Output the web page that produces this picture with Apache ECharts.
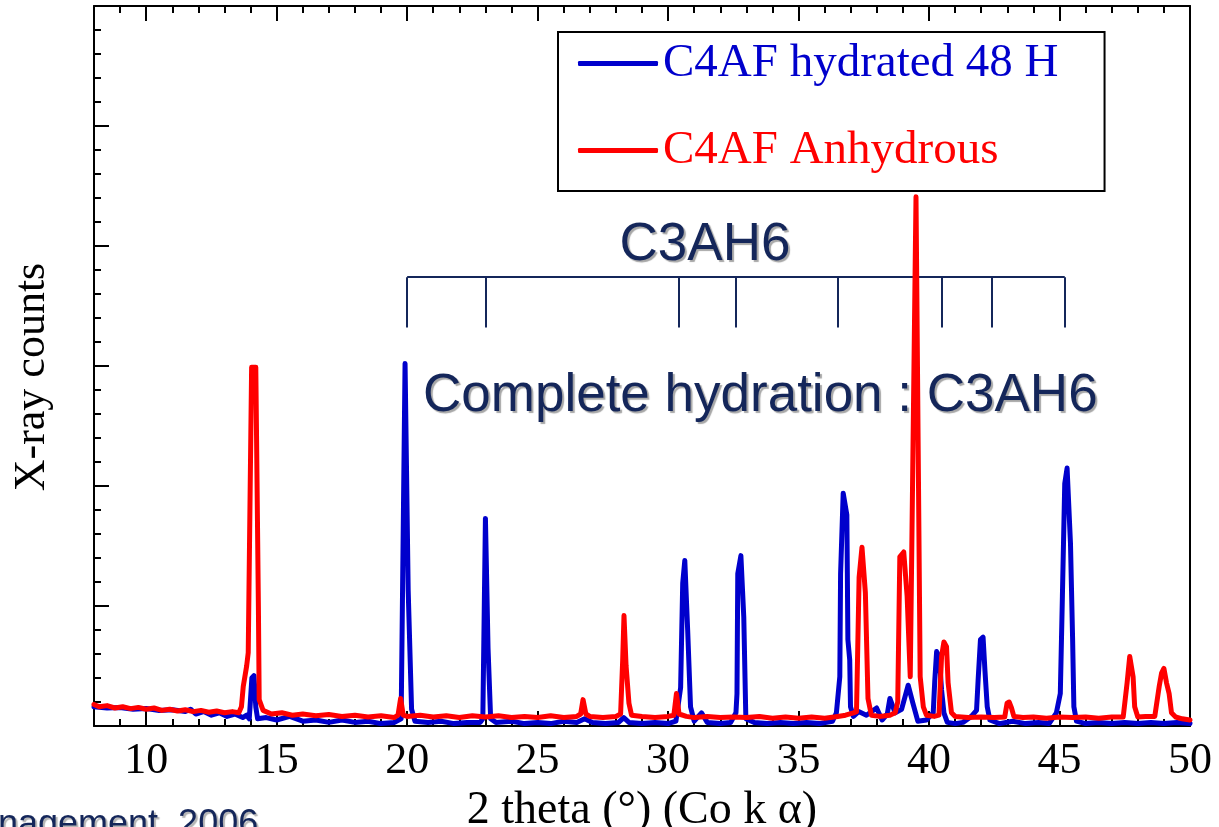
<!DOCTYPE html>
<html>
<head>
<meta charset="utf-8">
<title>C4AF XRD</title>
<script src="https://cdn.jsdelivr.net/npm/echarts@6/dist/echarts.min.js"></script>
<style>
  html, body { margin: 0; padding: 0; background: #ffffff; }
  #chart { width: 1219px; height: 827px; }
</style>
</head>
<body>
<div id="chart"></div>
<script>
// X-ray diffraction patterns of C4AF: anhydrous vs. hydrated 48 h (Co K-alpha)

// [2 theta (deg), counts] for the hydrated sample
const hydratedPoints = [
  [8.0, 16], [8.5, 15], [9.0, 15.5], [9.5, 14], [10.0, 14.5], [10.5, 13], [11.0, 13.5],
  [11.5, 12], [11.7, 14], [11.9, 10], [12.2, 12], [12.5, 9], [12.8, 11], [13.1, 8],
  [13.4, 10], [13.7, 7], [13.85, 9], [13.95, 6], [14.05, 40], [14.13, 42], [14.2, 16],
  [14.27, 6], [14.6, 7], [15.0, 5], [15.5, 8], [16.0, 4], [16.5, 5], [17.0, 3], [17.5, 5],
  [18.0, 3], [18.5, 4], [19.0, 2], [19.5, 3], [19.77, 6], [19.92, 302], [19.97, 302],
  [20.04, 113], [20.17, 14], [20.3, 4], [20.8, 3], [21.3, 4], [21.8, 2], [22.3, 3],
  [22.8, 3], [22.9, 6], [23.0, 173], [23.1, 65], [23.2, 6], [23.4, 3], [24.0, 4],
  [24.5, 2], [25.0, 3], [25.5, 2], [26.0, 4], [26.5, 3], [26.8, 6], [27.1, 3], [27.6, 2],
  [28.1, 3], [28.3, 7], [28.5, 3], [29.0, 2], [29.5, 3], [30.0, 2], [30.3, 4],
  [30.48, 32], [30.56, 119], [30.64, 138], [30.75, 80], [30.86, 16], [31.0, 4],
  [31.28, 11], [31.5, 3], [32.0, 2], [32.4, 3], [32.6, 11], [32.64, 27], [32.67, 127],
  [32.79, 142], [32.9, 91], [32.98, 6], [33.3, 3], [33.8, 2], [34.3, 3], [34.8, 2],
  [35.3, 3], [35.8, 2], [36.3, 4], [36.45, 11], [36.58, 41], [36.61, 127], [36.71, 194],
  [36.85, 176], [36.89, 72], [36.96, 55], [36.99, 16], [37.1, 8], [37.3, 12], [37.6, 9],
  [37.99, 15], [38.2, 5], [38.4, 10], [38.5, 23], [38.7, 11], [38.95, 14], [39.2, 34],
  [39.38, 19], [39.57, 4], [39.9, 5], [40.16, 11], [40.22, 38], [40.29, 62], [40.39, 58],
  [40.48, 30], [40.57, 11], [40.7, 3], [41.0, 2], [41.3, 3], [41.62, 8], [41.82, 13],
  [41.88, 38], [41.97, 72], [42.07, 74], [42.14, 47], [42.23, 16], [42.33, 5], [42.7, 2],
  [43.2, 4], [43.7, 2], [44.2, 3], [44.6, 2], [44.88, 11], [45.03, 27], [45.11, 108],
  [45.2, 202], [45.29, 215], [45.42, 152], [45.5, 74], [45.55, 16], [45.65, 4], [46.0, 2],
  [46.5, 3], [47.0, 2], [47.5, 3], [48.0, 2], [48.5, 3], [49.0, 2], [49.5, 3], [50.0, 2]
];

// [2 theta (deg), counts] for the anhydrous sample
const anhydrousPoints = [
  [8.0, 18], [8.2, 16], [8.5, 17], [8.8, 15], [9.1, 16], [9.4, 14.5], [9.7, 15.5],
  [10.0, 14], [10.3, 15], [10.6, 13], [10.9, 14], [11.2, 12.5], [11.5, 13.5], [11.8, 12],
  [12.1, 13], [12.4, 11.5], [12.7, 12.5], [13.0, 11], [13.3, 12], [13.55, 11], [13.65, 16],
  [13.72, 33], [13.85, 50], [13.91, 61], [14.04, 299], [14.2, 299], [14.3, 99],
  [14.33, 22], [14.48, 13], [14.8, 10], [15.2, 11], [15.6, 9], [16.0, 10], [16.5, 8.5],
  [17.0, 9.5], [17.5, 8], [18.0, 9], [18.5, 7.5], [19.0, 8.5], [19.5, 7], [19.65, 9],
  [19.75, 23], [19.85, 9], [20.0, 8], [20.5, 9], [21.0, 7.5], [21.5, 8.5], [22.0, 7],
  [22.5, 8.5], [23.0, 7.5], [23.5, 8.5], [24.0, 7], [24.5, 8], [25.0, 7], [25.5, 8.5],
  [26.0, 7], [26.5, 8], [26.65, 10], [26.74, 22], [26.85, 10], [27.0, 8], [27.5, 7],
  [28.0, 8], [28.18, 10], [28.26, 55], [28.31, 92], [28.39, 50], [28.5, 19], [28.6, 9],
  [29.0, 8], [29.5, 7], [30.0, 8], [30.22, 9], [30.32, 27], [30.42, 10], [30.7, 8],
  [31.0, 7], [31.5, 8], [32.0, 7], [32.5, 7.5], [33.0, 7], [33.5, 8], [34.0, 6.5],
  [34.5, 7.5], [35.0, 6.5], [35.5, 7.5], [36.0, 6.5], [36.5, 8], [36.8, 9], [37.1, 11],
  [37.22, 12], [37.32, 124], [37.43, 149], [37.56, 111], [37.66, 23], [37.79, 9],
  [38.1, 8], [38.5, 9], [38.7, 11], [38.8, 20], [38.88, 141], [39.03, 145], [39.16, 108],
  [39.28, 41], [39.5, 441], [39.66, 41], [39.78, 16], [39.9, 9], [40.2, 8], [40.38, 9],
  [40.48, 58], [40.57, 70], [40.67, 66], [40.73, 36], [40.86, 11], [41.0, 8], [41.5, 7],
  [42.0, 7.5], [42.5, 7], [42.9, 7.5], [42.99, 19], [43.07, 20], [43.16, 15], [43.25, 8],
  [43.6, 7], [44.0, 7.5], [44.5, 6.5], [45.0, 7.5], [45.5, 7], [46.0, 7.5], [46.5, 6.5],
  [47.0, 7.5], [47.44, 7.5], [47.59, 36], [47.69, 58], [47.76, 59], [47.82, 41],
  [47.88, 16], [48.0, 7.5], [48.3, 8], [48.65, 8], [48.82, 33], [48.91, 44], [49.0, 48],
  [49.1, 36], [49.2, 27], [49.29, 11], [49.45, 7.5], [49.7, 6], [50.0, 5]
];

// C3AH6 reflection markers (2 theta) and the bracket height in counts
const c3ah6Theta = [20.0, 23.0, 30.4, 32.6, 36.5, 40.5, 42.4, 45.2];
const bracketTop = 374;
const bracketBottom = 332;

// axis ticks
const xMajorTicks = [10, 15, 20, 25, 30, 35, 40, 45, 50];
const xRange = [8, 50];
const yRange = [0, 600];
const yStep = 100;

const xMinorTicks = [];
for (let v = xRange[0] + 1; v < xRange[1]; v++) {
  if (xMajorTicks.indexOf(v) < 0) xMinorTicks.push(v);
}

const seriesNames = ['C4AF hydrated 48 H', 'C4AF Anhydrous'];
const seriesColors = ['#0000cc', '#ff0000'];
const navy = '#14265a';

const serif = 'Liberation Serif, Times New Roman, serif';
const sans = 'Liberation Sans, Arial, sans-serif';

// bracket segments built from the marker positions
const bracketSegments = [
  { coords: [[c3ah6Theta[0], bracketTop], [c3ah6Theta[c3ah6Theta.length - 1], bracketTop]] }
];
c3ah6Theta.forEach(function (t) {
  bracketSegments.push({ coords: [[t, bracketTop], [t, bracketBottom]] });
});

const axisLineStyle = { color: '#000', width: 2 };

function xAxisDef(position, ticks, len, withLabels, withLine) {
  return {
    type: 'value',
    position: position,
    min: xRange[0],
    max: xRange[1],
    axisLine: { show: withLine, onZero: false, lineStyle: axisLineStyle },
    axisTick: { show: true, inside: true, length: len, customValues: ticks, lineStyle: { color: '#000', width: 2 } },
    axisLabel: withLabels ? {
      show: true, customValues: xMajorTicks, margin: 13,
      color: '#000', fontFamily: serif, fontSize: 44
    } : { show: false },
    splitLine: { show: false }
  };
}

const bottomMajor = xAxisDef('bottom', xMajorTicks, 15, true, true);
bottomMajor.name = '2 theta (\u00B0) (Co k \u03B1)';
bottomMajor.nameLocation = 'middle';
bottomMajor.nameGap = 53;
bottomMajor.nameTextStyle = { color: '#000', fontFamily: serif, fontSize: 46 };

const chart = echarts.init(document.getElementById('chart'), null, { renderer: 'canvas' });

chart.setOption({
  animation: false,
  backgroundColor: '#ffffff',
  grid: { left: 94, right: 29, top: 6, bottom: 101, containLabel: false, outerBoundsMode: 'none' },
  legend: {
    orient: 'vertical',
    left: 558,
    top: 32,
    padding: [8, 46, 17, 20],
    itemGap: 40,
    itemWidth: 80,
    itemHeight: 5,
    icon: 'roundRect',
    borderColor: '#000',
    borderWidth: 2,
    backgroundColor: '#fff',
    textStyle: { fontFamily: serif, fontSize: 47 },
    data: [
      { name: seriesNames[0], textStyle: { color: seriesColors[0] } },
      { name: seriesNames[1], textStyle: { color: seriesColors[1] } }
    ]
  },
  xAxis: [
    bottomMajor,
    xAxisDef('bottom', xMinorTicks, 7, false, false),
    xAxisDef('top', xMajorTicks, 15, false, true),
    xAxisDef('top', xMinorTicks, 7, false, false)
  ],
  yAxis: [
    {
      type: 'value',
      position: 'left',
      min: yRange[0],
      max: yRange[1],
      interval: yStep,
      name: 'X-ray counts',
      nameLocation: 'middle',
      nameGap: 40,
      nameTextStyle: { color: '#000', fontFamily: serif, fontSize: 44, padding: [0, 22, 0, 0] },
      axisLine: { show: true, onZero: false, lineStyle: axisLineStyle },
      axisTick: { show: true, inside: true, length: 15, lineStyle: { color: '#000', width: 2 } },
      minorTick: { show: true, splitNumber: 5, length: 7, lineStyle: { color: '#000', width: 2 } },
      axisLabel: { show: false },
      splitLine: { show: false },
      minorSplitLine: { show: false }
    },
    {
      type: 'value',
      position: 'right',
      min: yRange[0],
      max: yRange[1],
      interval: yStep,
      axisLine: { show: true, onZero: false, lineStyle: axisLineStyle },
      axisTick: { show: false },
      axisLabel: { show: false },
      splitLine: { show: false }
    }
  ],
  graphic: [
    {
      type: 'text', z: 0, x: 705, y: 245,
      style: {
        text: 'C3AH6', fill: navy, font: '53px ' + sans,
        align: 'center', verticalAlign: 'middle',
        textShadowColor: 'rgba(0,0,0,0.35)', textShadowOffsetX: 2, textShadowOffsetY: 2, textShadowBlur: 1
      }
    },
    {
      type: 'text', z: 0, x: 423, y: 396,
      style: {
        text: 'Complete hydration : C3AH6', fill: navy, font: '53px ' + sans,
        align: 'left', verticalAlign: 'middle',
        textShadowColor: 'rgba(0,0,0,0.35)', textShadowOffsetX: 2, textShadowOffsetY: 2, textShadowBlur: 1
      }
    },
    {
      type: 'text', z: 0, x: -2, y: 825,
      style: {
        text: 'nagement, 2006', fill: navy, font: '36px ' + sans,
        align: 'left', verticalAlign: 'middle',
        textShadowColor: 'rgba(0,0,0,0.3)', textShadowOffsetX: 2, textShadowOffsetY: 2, textShadowBlur: 1
      }
    }
  ],
  series: [
    {
      name: 'C3AH6 markers',
      type: 'lines',
      coordinateSystem: 'cartesian2d',
      xAxisIndex: 0,
      yAxisIndex: 0,
      polyline: false,
      silent: true,
      z: 1,
      lineStyle: { color: navy, width: 2, opacity: 1 },
      data: bracketSegments
    },
    {
      name: seriesNames[0],
      type: 'line',
      xAxisIndex: 0,
      yAxisIndex: 0,
      symbol: 'none',
      showSymbol: false,
      z: 2,
      color: seriesColors[0],
      lineStyle: { color: seriesColors[0], width: 5, join: 'round', cap: 'round' },
      data: hydratedPoints
    },
    {
      name: seriesNames[1],
      type: 'line',
      xAxisIndex: 0,
      yAxisIndex: 0,
      symbol: 'none',
      showSymbol: false,
      z: 3,
      color: seriesColors[1],
      lineStyle: { color: seriesColors[1], width: 5, join: 'round', cap: 'round' },
      data: anhydrousPoints
    }
  ]
});
</script>
</body>
</html>
